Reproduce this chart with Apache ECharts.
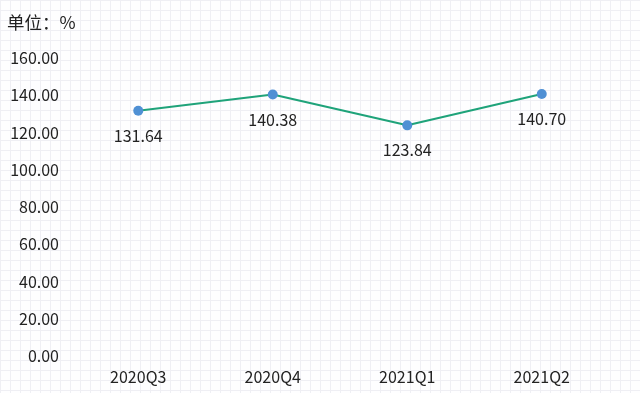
<!DOCTYPE html>
<html><head><meta charset="utf-8">
<script src="https://cdn.jsdelivr.net/npm/echarts@6/dist/echarts.min.js"></script>
<style>
html,body{margin:0;padding:0;}
body{background-color:#fefeff;background-image:linear-gradient(to right,#efeff4 1px,transparent 1px),linear-gradient(to bottom,#efeff4 1px,transparent 1px);background-size:10px 10px;}
#c{width:640px;height:393px;}
</style></head>
<body><div id="c"></div>
<script>
const categories = ['2020Q3','2020Q4','2021Q1','2021Q2'];
const values = [131.64, 140.38, 123.84, 140.70];
const unitLabel = '单位：%';
const font = '"Noto Sans CJK SC","Noto Sans",sans-serif';
const chart = echarts.init(document.getElementById('c'), null, {renderer:'canvas'});
chart.setOption({
  backgroundColor: 'transparent',
  animation: false,
  title: {text: unitLabel, left: 2, top: 9, textStyle:{fontSize:17.5, fontWeight:'normal', color:'#222', fontFamily:font}},
  grid: {left: 71, right: 31, top: 58, bottom: 37},
  xAxis: {type:'category', data: categories, boundaryGap: true,
    axisLine:{show:false}, axisTick:{show:false},
    axisLabel:{fontSize:16, color:'#222', fontFamily:font, margin:13}},
  yAxis: {type:'value', min:0, max:160, interval:20,
    axisLine:{show:false}, axisTick:{show:false}, splitLine:{show:false},
    axisLabel:{fontSize:16, color:'#222', fontFamily:font, margin:12, formatter: v => v.toFixed(2)}},
  series: [{type:'line', data: values, symbol:'circle', symbolSize:10,
    lineStyle:{color:'#1fa37a', width:2},
    itemStyle:{color:'#4f90d4'},
    label:{show:true, position:'bottom', distance:12, fontSize:16, color:'#222', fontFamily:font, formatter: p => p.value.toFixed(2)}}]
});
</script></body></html>
